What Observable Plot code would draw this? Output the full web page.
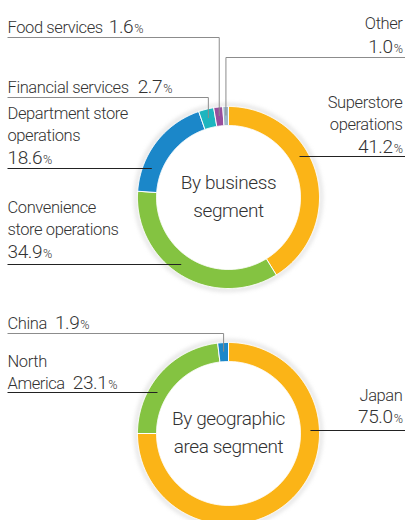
<!DOCTYPE html>
<html><head><meta charset="utf-8">
<script src="https://cdn.jsdelivr.net/npm/d3@7"></script>
<script src="https://cdn.jsdelivr.net/npm/@observablehq/plot@0.6"></script>
<style>body{margin:0;background:#fff}#chart{width:405px;height:520px;overflow:hidden}</style>
</head><body><div id="chart"></div>
<script>
// ---- data ----
const bizSegments = ["Superstore operations", "Convenience store operations", "Department store operations", "Financial services", "Food services", "Other"];
const bizShares = [41.2, 34.9, 18.6, 2.7, 1.6, 1.0];
const bizTitle = ["By business", "segment"];
const geoSegments = ["Japan", "North America", "China"];
const geoShares = [75.0, 23.1, 1.9];
const geoTitle = ["By geographic", "area segment"];

// ---- styles / layout ----
const bizColors = ["#FBB417", "#84C341", "#1B87C9", "#1DB5BF", "#984F9D", "#9DB8C9"];
const geoColors = ["#FBB417", "#84C341", "#1B87C9"];
const FONT = 'Roboto,sans-serif';
const WEIGHT = 300;
const LS = -0.4; // letter spacing px
const W = 405, H = 520;
const LABEL_SIZE = 16.5, NUM_SIZE = 19, PCT_SIZE = 12.5, TITLE_SIZE = 19, LH = 22.5;
const TEXT = "#333";
const bizRing = {cx: 228, cy: 197, R: 91, r: 72, rm: 82};
const geoRing = {cx: 228, cy: 433, R: 91, r: 72, rm: 82};
const bizLayout = [
  {lines: ["Superstore", "operations"], side: "right", y0: 107, own: true, leaderY: 156, kind: "h"},
  {lines: ["Convenience", "store operations"], side: "left", y0: 212, own: true, leaderY: 264, kind: "h"},
  {lines: ["Department store", "operations"], side: "left", y0: 118, own: true, leaderY: 168, kind: "h"},
  {lines: ["Financial services"], side: "left", y0: 92, own: false, gap: 9, leaderY: 97, kind: "v"},
  {lines: ["Food services"], side: "left", y0: 32, own: false, gap: 6, leaderY: 37, kind: "v"},
  {lines: ["Other"], side: "right", y0: 28, own: true, lh: 24.5, leaderY: 57, kind: "v"}
];
const geoLayout = [
  {lines: ["Japan"], side: "right", y0: 400, own: true, leaderY: 430, kind: "h"},
  {lines: ["North", "America"], side: "left", y0: 366, own: false, gap: 8, leaderY: 392, kind: "h"},
  {lines: ["China"], side: "left", y0: 328, own: false, gap: 8, leaderY: 333, kind: "v"}
];
const LEFT_X = 7, RIGHT_X = 402;

const ctx = document.createElement("canvas").getContext("2d");
function tw(s, size) { ctx.font = `${WEIGHT} ${size}px ${FONT}`; return ctx.measureText(s).width + LS * s.length; }

function build(names, shares, colors, ring, layout, title) {
  const arcs = d3.pie().sort(null).value(d => d.share)(names.map((n, i) => ({name: n, share: shares[i], color: colors[i]})));
  const polys = [], texts = [], grey = [], dark = [];
  arcs.forEach((p, k) => {
    const pts = [];
    const n = Math.max(4, Math.ceil((p.endAngle - p.startAngle) / 0.01));
    for (let i = 0; i <= n; i++) { const a = p.startAngle + (p.endAngle - p.startAngle) * i / n; pts.push({x: ring.cx + ring.R * Math.sin(a), y: ring.cy - ring.R * Math.cos(a)}); }
    for (let i = n; i >= 0; i--) { const a = p.startAngle + (p.endAngle - p.startAngle) * i / n; pts.push({x: ring.cx + ring.r * Math.sin(a), y: ring.cy - ring.r * Math.cos(a)}); }
    pts.push(pts[0]);
    polys.push({color: p.data.color, pts});
    const L = layout[k];
    const lh = L.lh || LH;
    const numStr = p.data.share.toFixed(1);
    const anchor = L.side === "left" ? "start" : "end";
    const x0 = L.side === "left" ? LEFT_X : RIGHT_X;
    L.lines.forEach((s, i) => texts.push({x: x0, y: L.y0 + i * lh, text: s, anchor, size: LABEL_SIZE}));
    const ny = L.own ? L.y0 + L.lines.length * lh : L.y0 + (L.lines.length - 1) * lh;
    if (L.side === "left") {
      const nx = L.own ? LEFT_X : LEFT_X + tw(L.lines[L.lines.length - 1], LABEL_SIZE) + L.gap;
      texts.push({x: nx, y: ny, text: numStr, anchor: "start", size: NUM_SIZE});
      texts.push({x: nx + tw(numStr, NUM_SIZE) + 1, y: ny, text: "%", anchor: "start", size: PCT_SIZE});
    } else {
      texts.push({x: RIGHT_X, y: ny, text: "%", anchor: "end", size: PCT_SIZE});
      texts.push({x: RIGHT_X - tw("%", PCT_SIZE) - 1, y: ny, text: numStr, anchor: "end", size: NUM_SIZE});
    }
    const edge = L.side === "left" ? LEFT_X : W;
    if (L.kind === "h") {
      const dy = L.leaderY - ring.cy;
      const dx = Math.sqrt(ring.rm * ring.rm - dy * dy);
      dark.push({x1: edge, y1: L.leaderY, x2: L.side === "left" ? ring.cx - dx : ring.cx + dx, y2: L.leaderY});
    } else {
      const mid = (p.startAngle + p.endAngle) / 2;
      const xm = ring.cx + ring.rm * Math.sin(mid), ym = ring.cy - ring.rm * Math.cos(mid);
      grey.push({x1: edge, y1: L.leaderY, x2: xm, y2: L.leaderY});
      grey.push({x1: xm, y1: L.leaderY, x2: xm, y2: ym});
    }
  });
  texts.push({x: ring.cx, y: ring.cy - 9, text: title[0], anchor: "middle", size: TITLE_SIZE});
  texts.push({x: ring.cx, y: ring.cy + 19, text: title[1], anchor: "middle", size: TITLE_SIZE});
  return {polys, texts, grey, dark, ring};
}

const parts = [
  build(bizSegments, bizShares, bizColors, bizRing, bizLayout, bizTitle),
  build(geoSegments, geoShares, geoColors, geoRing, geoLayout, geoTitle)
];

const marks = [];
for (const P of parts) {
  marks.push(Plot.dot([P.ring], {x: "cx", y: "cy", r: P.ring.R + 1.5, fill: "none", stroke: "#9a9a9a", strokeWidth: 3, strokeOpacity: 0.35, imageFilter: "blur(2px)"}));
  for (const s of P.polys) marks.push(Plot.line(s.pts, {x: "x", y: "y", fill: s.color, stroke: "#fff", strokeWidth: 1, curve: "linear"}));
  marks.push(Plot.link(P.grey, {x1: "x1", y1: "y1", x2: "x2", y2: "y2", stroke: "#8c8c8c", strokeWidth: 1}));
  marks.push(Plot.link(P.dark, {x1: "x1", y1: "y1", x2: "x2", y2: "y2", stroke: "#222", strokeWidth: 1}));
  for (const anchor of ["start", "middle", "end"]) {
    const sub = P.texts.filter(d => d.anchor === anchor);
    marks.push(Plot.text(sub, {x: "x", y: "y", text: "text", textAnchor: anchor, lineAnchor: "bottom", fontSize: "size", fill: TEXT, fontFamily: FONT, fontWeight: WEIGHT}));
  }
}

const chart = Plot.plot({
  width: W, height: H, margin: 0,
  x: {domain: [0, W], range: [0, W], axis: null},
  y: {domain: [0, H], range: [0, H], axis: null},
  style: {background: "#fff", overflow: "hidden", letterSpacing: LS + "px"},
  marks
});
document.getElementById("chart").append(chart);
</script>
</body></html>
